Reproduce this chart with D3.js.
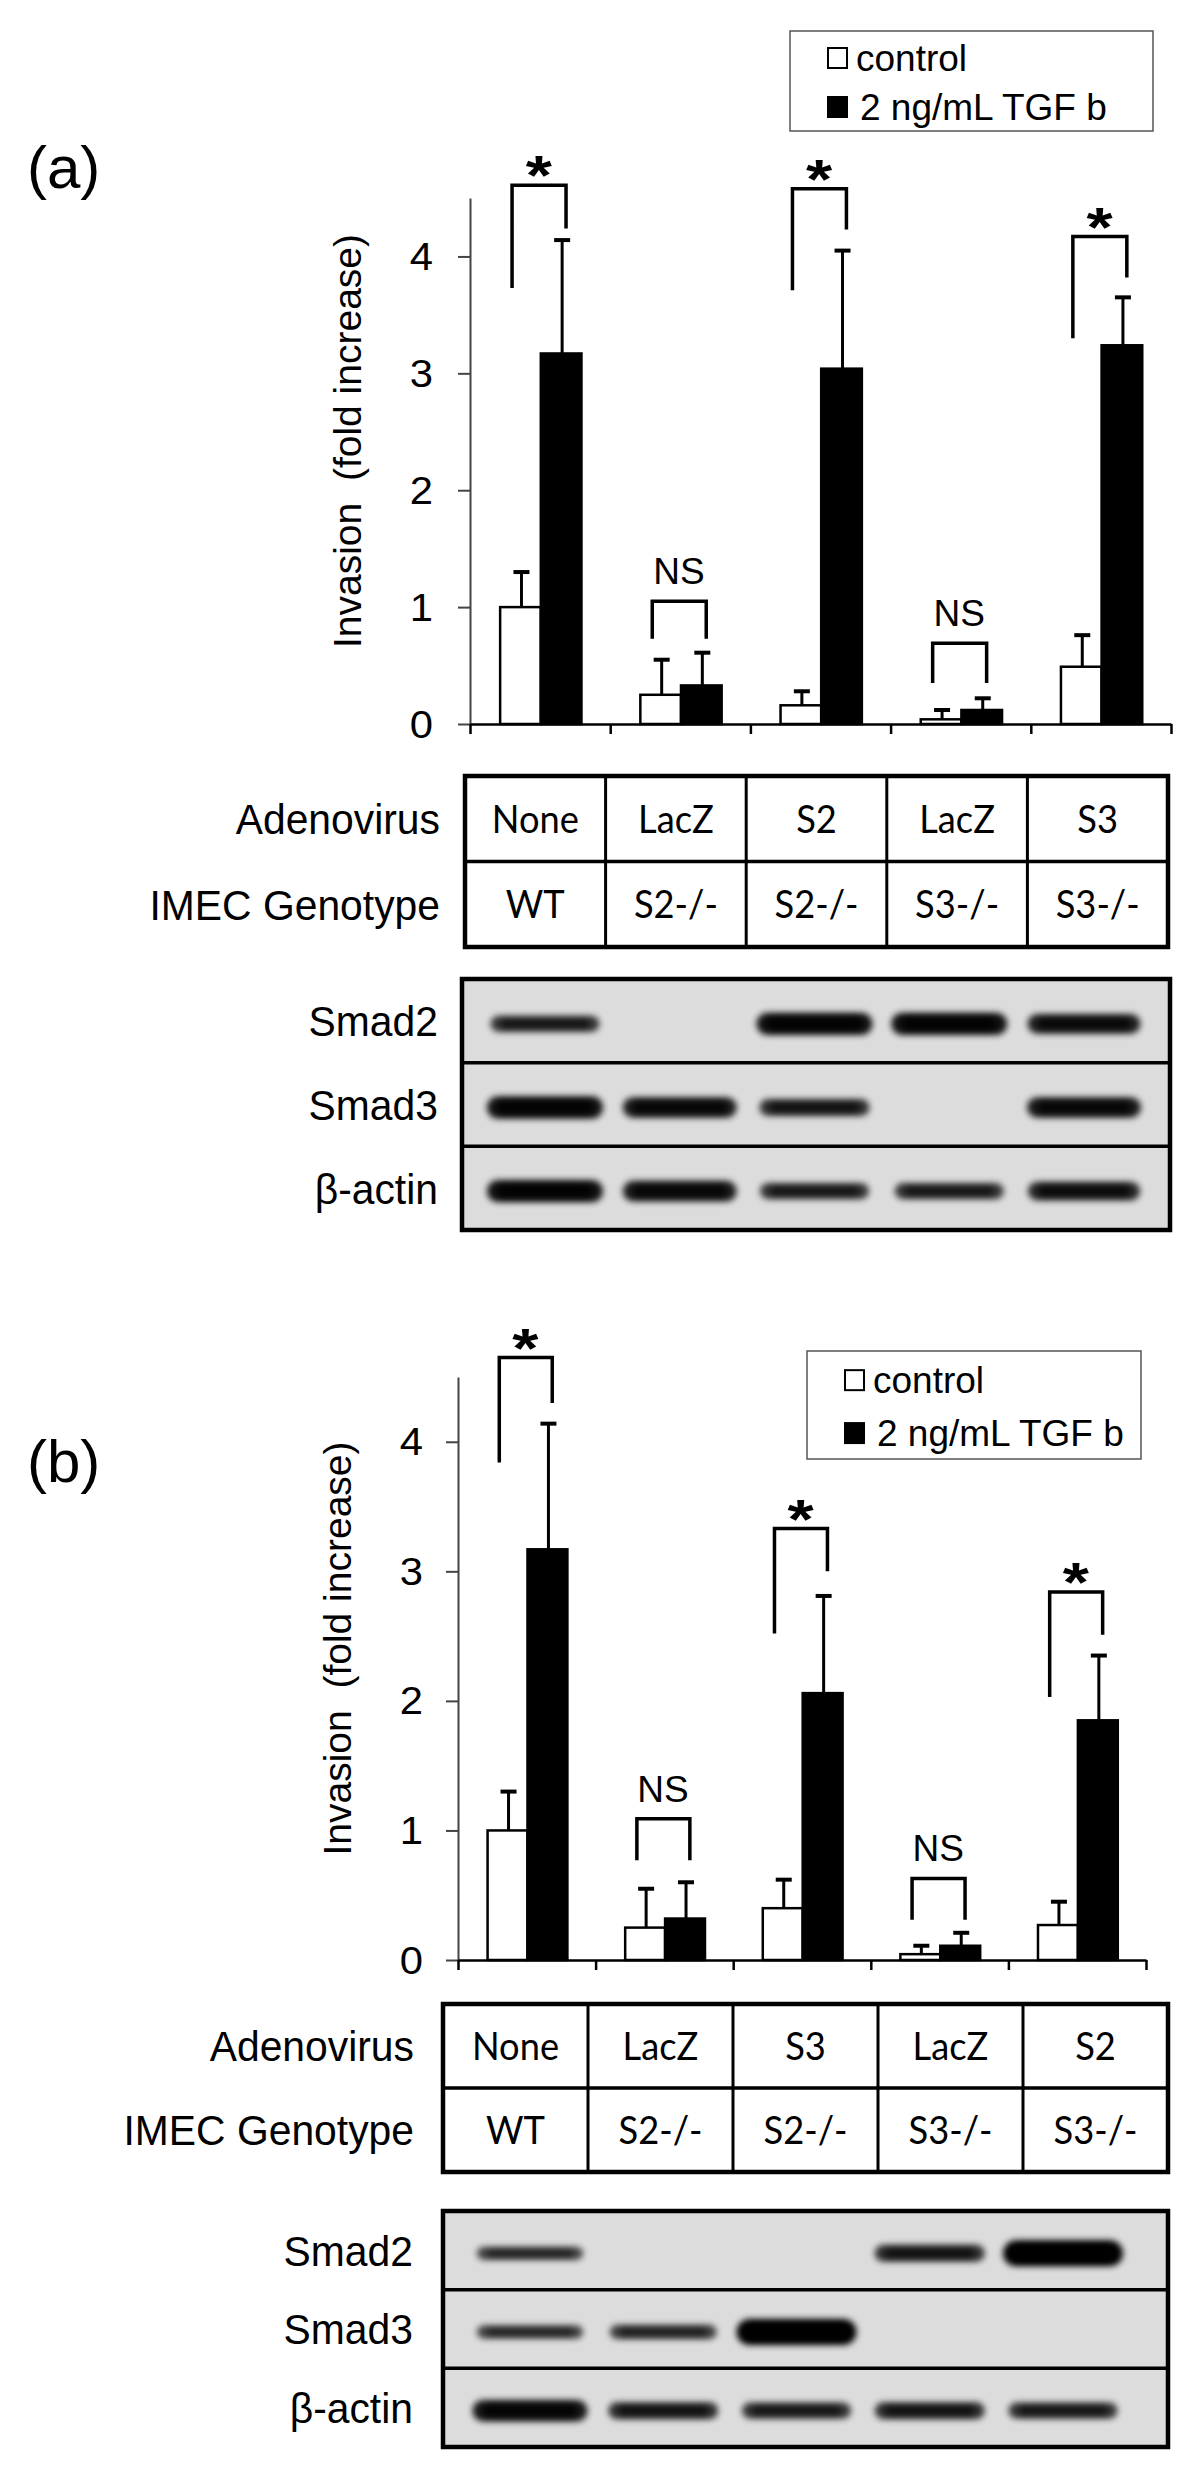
<!DOCTYPE html>
<html>
<head>
<meta charset="utf-8">
<script src="https://cdn.jsdelivr.net/npm/d3@7"></script>
<style>
  body { margin: 0; background: #fff; }
  svg text { font-family: "Liberation Sans", Arial, sans-serif; fill: #000; }
  .cell { font-family: Lato, "Open Sans", sans-serif; }
</style>
</head>
<body>
<div id="chart"></div>
<script>
// ---- data ----
var series = ["control", "2 ng/mL TGF b"];
var lanes = [0, 1, 2, 3, 4];

// table rows
var adenovirusA = ["None", "LacZ", "S2", "LacZ", "S3"];
var adenovirusB = ["None", "LacZ", "S3", "LacZ", "S2"];
var genotypeA = ["WT", "S2-/-", "S2-/-", "S3-/-", "S3-/-"];
var genotypeB = ["WT", "S2-/-", "S2-/-", "S3-/-", "S3-/-"];

// panel (a) invasion, fold increase (mean and sd)
var controlA = [1.00, 0.25, 0.16, 0.04, 0.49];
var controlSdA = [0.30, 0.30, 0.12, 0.08, 0.27];
var tgfA = [3.17, 0.33, 3.04, 0.12, 3.24];
var tgfSdA = [0.97, 0.28, 1.01, 0.10, 0.41];

// panel (b)
var controlB = [1.00, 0.25, 0.40, 0.045, 0.27];
var controlSdB = [0.30, 0.30, 0.22, 0.065, 0.18];
var tgfB = [3.17, 0.32, 2.06, 0.11, 1.85];
var tgfSdB = [0.97, 0.28, 0.75, 0.10, 0.50];

// significance brackets: top, left leg end, right leg end (data units)
var bracketTopA = [4.61, 1.05, 4.58, 0.69, 4.17];
var bracketLeftA = [3.73, 0.73, 3.71, 0.35, 3.30];
var bracketRightA = [4.24, 0.73, 4.23, 0.35, 3.82];
var bracketTopB = [4.65, 1.09, 3.33, 0.63, 2.84];
var bracketLeftB = [3.84, 0.77, 2.52, 0.31, 2.03];
var bracketRightB = [4.30, 0.77, 3.00, 0.31, 2.51];
var signif = ["*", "NS", "*", "NS", "*"];

var yTicks = [0, 1, 2, 3, 4];

// western blot band strength per lane (0 = no band)
var blotRows = ["Smad2", "Smad3", "\u03b2-actin"];
var smad2A = [0.45, 0, 0.8, 0.8, 0.65];
var smad3A = [0.8, 0.7, 0.5, 0, 0.7];
var actinA = [0.8, 0.7, 0.45, 0.45, 0.6];
var smad2B = [0.3, 0, 0, 0.5, 1.0];
var smad3B = [0.3, 0.35, 1.0, 0, 0];
var actinB = [0.75, 0.5, 0.45, 0.5, 0.45];

var svg = d3.select("#chart").append("svg")
  .attr("width", 1200)
  .attr("height", 2484);

var defs = svg.append("defs");
defs.append("filter").attr("id", "blur")
  .attr("x", "-20%").attr("y", "-80%").attr("width", "140%").attr("height", "260%")
  .append("feGaussianBlur").attr("stdDeviation", 3);

function drawPanel(p) {
  var g = svg.append("g");

  // panel letter
  g.append("text")
    .attr("x", p.letterX).attr("y", p.letterY)
    .attr("font-size", 60)
    .text(p.letter);

  // legend
  var lg = g.append("g");
  lg.append("rect")
    .attr("x", p.legend.x).attr("y", p.legend.y)
    .attr("width", p.legend.w).attr("height", p.legend.h)
    .attr("fill", "#fff").attr("stroke", "#555").attr("stroke-width", 1.5);
  series.forEach(function (s, i) {
    var cy = p.legend.y + p.legend.h * (i === 0 ? 0.27 : 0.76);
    lg.append("rect")
      .attr("x", p.legend.x + 38).attr("y", cy - 10)
      .attr("width", 19).attr("height", 20)
      .attr("fill", i === 0 ? "#fff" : "#000")
      .attr("stroke", "#000").attr("stroke-width", 2);
    lg.append("text")
      .attr("x", p.legend.x + 66 + (i === 0 ? 0 : 4)).attr("y", cy)
      .attr("dy", "0.36em")
      .attr("font-size", 37)
      .text(s);
  });

  // scales
  var y = d3.scaleLinear().domain([0, 4.5]).range([p.base, p.top]);
  var x = d3.scaleBand().domain(lanes).range([p.x0, p.x1]).padding(0);
  var cw = x.bandwidth();
  var xs = d3.scaleBand().domain([0, 1]).range([cw * 0.215, cw * 0.795]).padding(0);
  var xTick = d3.scaleLinear().domain([0, 5]).range([p.x0, p.x1]);

  // axes
  var yAxis = g.append("g")
    .attr("transform", "translate(" + p.x0 + ",0)")
    .call(d3.axisLeft(y).tickValues(yTicks).tickSize(12).tickPadding(0)
      .tickSizeOuter(0).tickFormat(d3.format("d")));
  yAxis.selectAll(".tick text")
    .attr("x", null).attr("dy", null)
    .attr("transform", "translate(" + (-p.tickGap) + ",13) scale(1.1,1)")
    .attr("font-size", 38)
    .attr("font-family", "Liberation Sans, Arial, sans-serif");
  yAxis.selectAll("path, line").attr("stroke", "#444").attr("stroke-width", 2);

  var xAxis = g.append("g")
    .attr("transform", "translate(0," + p.base + ")")
    .call(d3.axisBottom(xTick).tickValues([0, 1, 2, 3, 4, 5]).tickSize(10)
      .tickSizeOuter(0).tickFormat(""));
  xAxis.selectAll("path, line").attr("stroke", "#000").attr("stroke-width", 2.5);

  // bars
  var groups = g.selectAll(".grp")
    .data(lanes)
    .enter().append("g")
    .attr("class", "grp")
    .attr("transform", function (d) { return "translate(" + x(d) + ",0)"; });

  var bars = groups.selectAll(".bar")
    .data(function (d) {
      return [
        { s: 0, v: p.ctrl[d], sd: p.ctrlSd[d] },
        { s: 1, v: p.tgf[d], sd: p.tgfSd[d] }
      ];
    })
    .enter().append("g").attr("class", "bar");

  // error bars first so the bar outline sits on top
  bars.append("line")
    .attr("x1", function (d) { return xs(d.s) + xs.bandwidth() / 2 + 1; })
    .attr("x2", function (d) { return xs(d.s) + xs.bandwidth() / 2 + 1; })
    .attr("y1", function (d) { return y(d.v); })
    .attr("y2", function (d) { return y(d.v + d.sd); })
    .attr("stroke", "#000").attr("stroke-width", 3);
  bars.append("line")
    .attr("x1", function (d) { return xs(d.s) + xs.bandwidth() / 2 - 7; })
    .attr("x2", function (d) { return xs(d.s) + xs.bandwidth() / 2 + 9; })
    .attr("y1", function (d) { return y(d.v + d.sd); })
    .attr("y2", function (d) { return y(d.v + d.sd); })
    .attr("stroke", "#000").attr("stroke-width", 4);

  bars.append("rect")
    .attr("x", function (d) { return xs(d.s); })
    .attr("y", function (d) { return y(d.v); })
    .attr("width", xs.bandwidth())
    .attr("height", function (d) { return p.base - y(d.v); })
    .attr("fill", function (d) { return d.s ? "#000" : "#fff"; })
    .attr("stroke", "#000").attr("stroke-width", 2.5);

  // brackets
  groups.append("path")
    .attr("d", function (d) {
      var xl = cw * 0.3, xr = cw * 0.685;
      return "M" + xl + "," + y(p.bLeft[d]) + "V" + y(p.bTop[d]) +
        "H" + xr + "V" + y(p.bRight[d]);
    })
    .attr("fill", "none").attr("stroke", "#000").attr("stroke-width", 3.5);

  groups.append("text")
    .attr("transform", function (d) {
      var star = signif[d] === "*";
      return "translate(" + (cw * 0.49) + "," + (y(p.bTop[d]) + (star ? 9 : -17)) + ")" +
        (star ? " scale(1.2,1)" : "");
    })
    .attr("text-anchor", "middle")
    .attr("font-size", function (d) { return signif[d] === "*" ? 56 : 37; })
    .attr("font-weight", function (d) { return signif[d] === "*" ? "bold" : "normal"; })
    .text(function (d) { return signif[d]; });

  // table
  var t = p.table;
  var tx = d3.scaleBand().domain(lanes).range([t.x0, t.x1]).padding(0);
  var ty = d3.scaleBand().domain([0, 1]).range([t.y0, t.y1]).padding(0);
  var tg = g.append("g");
  tg.selectAll(".vline").data(lanes.slice(1))
    .enter().append("line")
    .attr("x1", function (d) { return tx(d); }).attr("x2", function (d) { return tx(d); })
    .attr("y1", t.y0).attr("y2", t.y1)
    .attr("stroke", "#000").attr("stroke-width", 3);
  tg.append("line")
    .attr("x1", t.x0).attr("x2", t.x1)
    .attr("y1", ty(1)).attr("y2", ty(1))
    .attr("stroke", "#000").attr("stroke-width", 3.5);
  tg.append("rect")
    .attr("x", t.x0).attr("y", t.y0)
    .attr("width", t.x1 - t.x0).attr("height", t.y1 - t.y0)
    .attr("fill", "none").attr("stroke", "#000").attr("stroke-width", 4.5);
  [p.adeno, p.geno].forEach(function (row, r) {
    tg.selectAll(".c" + r).data(row)
      .enter().append("text")
      .attr("class", "cell")
      .attr("transform", function (d, i) {
        return "translate(" + (tx(i) + tx.bandwidth() / 2) + "," + (ty(r) + ty.bandwidth() / 2) + ") scale(0.93,1)";
      })
      .attr("dy", "0.36em")
      .attr("text-anchor", "middle")
      .attr("font-size", 39)
      .text(function (d) { return d; });
  });
  tg.selectAll(".rl").data(["Adenovirus", "IMEC Genotype"])
    .enter().append("text")
    .attr("transform", function (d, i) {
      return "translate(" + t.labelX + "," + (ty(i) + ty.bandwidth() / 2) + ") scale(0.95,1)";
    })
    .attr("dy", "0.36em")
    .attr("text-anchor", "end")
    .attr("font-size", 43)
    .text(function (d) { return d; });

  // western blot
  var b = p.blot;
  var by = d3.scaleBand().domain([0, 1, 2]).range([b.y0, b.y1]).padding(0);
  var bx = d3.scalePoint().domain(lanes).range([b.l0, b.l1]);
  var bg = g.append("g");
  bg.append("rect")
    .attr("x", b.x0).attr("y", b.y0)
    .attr("width", b.x1 - b.x0).attr("height", b.y1 - b.y0)
    .attr("fill", "#dcdcdc");
  p.bands.forEach(function (row, r) {
    var bands = row.map(function (v, i) { return { v: v, i: i }; })
      .filter(function (d) { return d.v > 0; });
    var cy = by(r) + by.bandwidth() / 2 + 3;
    // soft halo, then dense core
    bg.selectAll(".halo" + r).data(bands)
      .enter().append("rect")
      .attr("filter", "url(#blur)")
      .attr("x", function (d) { return bx(d.i) - (100 + 20 * d.v) / 2; })
      .attr("width", function (d) { return 100 + 20 * d.v; })
      .attr("y", function (d) { return cy - (8 + 18 * d.v) / 2; })
      .attr("height", function (d) { return 8 + 18 * d.v; })
      .attr("rx", function (d) { return (8 + 18 * d.v) / 2; })
      .attr("fill", "#000")
      .attr("opacity", function (d) { return 0.55 + 0.45 * d.v; });
    bg.selectAll(".core" + r).data(bands)
      .enter().append("rect")
      .attr("filter", "url(#blur)")
      .attr("x", function (d) { return bx(d.i) - (80 + 20 * d.v) / 2; })
      .attr("width", function (d) { return 80 + 20 * d.v; })
      .attr("y", function (d) { return cy - (3 + 12 * d.v) / 2; })
      .attr("height", function (d) { return 3 + 12 * d.v; })
      .attr("rx", function (d) { return (3 + 12 * d.v) / 2; })
      .attr("fill", "#000")
      .attr("opacity", function (d) { return 0.4 + 0.6 * d.v; });
  });
  bg.selectAll(".hl").data([1, 2])
    .enter().append("line")
    .attr("x1", b.x0).attr("x2", b.x1)
    .attr("y1", function (d) { return by(d); }).attr("y2", function (d) { return by(d); })
    .attr("stroke", "#000").attr("stroke-width", 3.5);
  bg.append("rect")
    .attr("x", b.x0).attr("y", b.y0)
    .attr("width", b.x1 - b.x0).attr("height", b.y1 - b.y0)
    .attr("fill", "none").attr("stroke", "#000").attr("stroke-width", 4.5);
  bg.selectAll(".bl").data(blotRows)
    .enter().append("text")
    .attr("transform", function (d, i) {
      return "translate(" + b.labelX + "," + (by(i) + by.bandwidth() / 2) + ") scale(0.95,1)";
    })
    .attr("dy", "0.36em")
    .attr("text-anchor", "end")
    .attr("font-size", 43)
    .text(function (d) { return d; });

  // y title
  g.append("text")
    .attr("transform", "translate(" + p.titleX + "," + ((p.base + p.top) / 2 - 20) + ") rotate(-90)")
    .attr("text-anchor", "middle")
    .attr("font-size", 39)
    .attr("xml:space", "preserve")
    .style("white-space", "pre")
    .text("Invasion  (fold increase)");
}

drawPanel({
  letter: "(a)", letterX: 27, letterY: 188,
  legend: { x: 790, y: 31, w: 363, h: 100 },
  x0: 470, x1: 1171, base: 724, top: 198, titleX: 361, tickGap: 37,
  ctrl: controlA, ctrlSd: controlSdA, tgf: tgfA, tgfSd: tgfSdA,
  bTop: bracketTopA, bLeft: bracketLeftA, bRight: bracketRightA,
  adeno: adenovirusA, geno: genotypeA,
  table: { x0: 465, x1: 1168, y0: 776, y1: 947, labelX: 440 },
  blot: { x0: 462, x1: 1170, y0: 979, y1: 1230, l0: 545, l1: 1084, labelX: 438 },
  bands: [smad2A, smad3A, actinA]
});

drawPanel({
  letter: "(b)", letterX: 27, letterY: 1482,
  legend: { x: 807, y: 1351, w: 334, h: 108 },
  x0: 458, x1: 1146, base: 1960, top: 1377, titleX: 351, tickGap: 35,
  ctrl: controlB, ctrlSd: controlSdB, tgf: tgfB, tgfSd: tgfSdB,
  bTop: bracketTopB, bLeft: bracketLeftB, bRight: bracketRightB,
  adeno: adenovirusB, geno: genotypeB,
  table: { x0: 443, x1: 1168, y0: 2004, y1: 2172, labelX: 414 },
  blot: { x0: 443, x1: 1168, y0: 2211, y1: 2447, l0: 530, l1: 1063, labelX: 413 },
  bands: [smad2B, smad3B, actinB]
});
</script>
</body>
</html>
